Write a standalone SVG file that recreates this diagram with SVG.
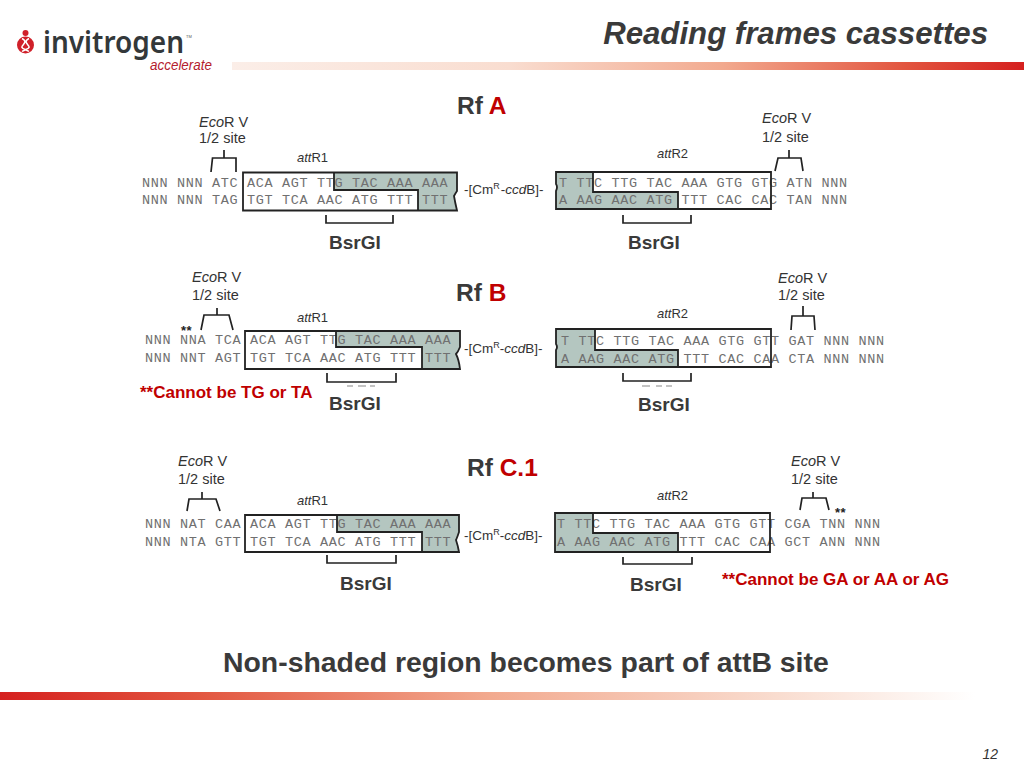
<svg xmlns="http://www.w3.org/2000/svg" width="1024" height="768" viewBox="0 0 1024 768">
<defs>
<linearGradient id="barTop" x1="0" x2="1" y1="0" y2="0"><stop offset="0" stop-color="#fbeee8"/><stop offset="0.35" stop-color="#f9ddd0"/><stop offset="0.62" stop-color="#f2a98e"/><stop offset="0.85" stop-color="#e2553f"/><stop offset="1" stop-color="#d5201f"/></linearGradient>
<linearGradient id="barBot" x1="0" x2="1" y1="0" y2="0"><stop offset="0" stop-color="#d5201f"/><stop offset="0.2" stop-color="#e2553f"/><stop offset="0.5" stop-color="#f2a98e"/><stop offset="0.8" stop-color="#f9ddd0"/><stop offset="1" stop-color="#ffffff"/></linearGradient>
</defs>
<style>
text{font-family:"Liberation Sans",Arial,sans-serif}
.seq{font-family:"Liberation Mono","Courier New",monospace;font-size:13.5px;letter-spacing:0.65px;fill:#707070}
.shade{fill:#b4c6c0;stroke:none}
.box{fill:none;stroke:#222;stroke-width:1.8}
.br{fill:none;stroke:#222;stroke-width:1.7}
.site{font-size:14.5px;fill:#333}
.att{font-size:13px;fill:#333}
.cm{font-size:13.5px;fill:#333}
.enz{font-size:19px;font-weight:bold;fill:#3a3a3a}
.rf{font-size:24.5px;font-weight:bold;fill:#3a3a3a}
.red{fill:#c00000}
.note{font-size:17px;font-weight:bold;fill:#c00000}
.star{font-size:13px;font-weight:bold;letter-spacing:0.5px;fill:#222}
.it{font-style:italic}
</style>
<rect width="1024" height="768" fill="#fff"/>
<g id="header">
<rect x="232" y="62" width="792" height="8" fill="url(#barTop)"/>
<text x="988" y="44" text-anchor="end" font-size="31.2" font-weight="bold" font-style="italic" fill="#3a3a3a">Reading frames cassettes</text>
</g>
<g id="logo">
<circle cx="25.500" cy="33" r="3" fill="#d0202a"/>
<circle cx="25.500" cy="45" r="8.500" fill="#d0202a"/>
<path d="M22 38.500c6 3 1 6 0 8s4 3 7 5M29 38.500c-6 3-1 6 0 8s-4 3-7 5" fill="none" stroke="#fff" stroke-width="1.500"/>
<text x="43" y="53" font-family="Noto Sans,sans-serif" style="font-family:'Noto Sans',sans-serif" font-size="31" font-weight="600" fill="#33383a" textLength="141" lengthAdjust="spacingAndGlyphs">invitrogen</text>
<text x="186" y="38" font-size="4" fill="#555">TM</text>
<text x="150" y="70" font-size="15.500" font-style="italic" fill="#b5202e" textLength="62" lengthAdjust="spacingAndGlyphs">accelerate</text>
</g>

<g id="rf-a">
<text class="rf" x="457" y="114">Rf <tspan class="red">A</tspan></text>
<text class="enz" x="329" y="249">BsrGI</text>
<text class="enz" x="628" y="249">BsrGI</text>
</g>
<g id="rf-a-attr1">
<path class="shade" d="M334 173H457V191Q455 194 454 196Q455 202 457 210H418V190H334Z"/>
<text class="seq" x="142" y="187">NNN NNN ATC ACA AGT TTG TAC AAA AAA</text>
<text class="seq" x="142" y="204">NNN NNN TAG TGT TCA AAC ATG TTT TTT</text>
<path class="box" d="M243 172.500H457V191Q455 194 454 196Q455 202 457 210.500H243ZM334 173V190H418V210"/>
<text class="site" x="199" y="127"><tspan class="it">Eco</tspan>R V</text>
<text class="site" x="199" y="143">1/2 site</text>
<text class="att" x="297" y="162"><tspan class="it">att</tspan>R1</text>
</g>
<g id="rf-a-cm"><text class="cm" x="464" y="194">-[Cm<tspan font-size="9" dy="-5">R</tspan><tspan dy="5" dx="1">-</tspan><tspan class="it">ccd</tspan>B]-</text></g>
<g id="rf-a-attr2">
<path class="shade" d="M556 172H593V192H678V209H556V191Q558 188 556 186Z"/>
<text class="seq" x="559" y="187">T TTC TTG TAC AAA GTG GTG ATN NNN</text>
<text class="seq" x="559" y="204">A AAG AAC ATG TTT CAC CAC TAN NNN</text>
<path class="box" d="M556 172H771V209H556V191Q558 187 556 184ZM593 172V192H678V209"/>
<text class="site" x="762" y="123"><tspan class="it">Eco</tspan>R V</text>
<text class="site" x="762" y="142">1/2 site</text>
<text class="att" x="657" y="158"><tspan class="it">att</tspan>R2</text>
</g>

<g id="rf-b">
<text class="rf" x="456" y="301">Rf <tspan class="red">B</tspan></text>
<text class="note" x="140" y="398">**Cannot be TG or TA</text>
<text class="enz" x="329" y="410">BsrGI</text>
<text class="enz" x="638" y="411">BsrGI</text>
</g>
<g id="rf-b-attr1">
<path class="shade" d="M336 331H460V347Q458 352 456 354Q459 360 460 369H422V347H336Z"/>
<text class="seq" x="145" y="344">NNN NNA TCA ACA AGT TTG TAC AAA AAA</text>
<text class="seq" x="145" y="362">NNN NNT AGT TGT TCA AAC ATG TTT TTT</text>
<path class="box" d="M245 331H460V347Q458 352 456 354Q459 360 460 369H245ZM336 331V347H422V369"/>
<text class="star" x="181" y="335">**</text>
<text class="site" x="192" y="282"><tspan class="it">Eco</tspan>R V</text>
<text class="site" x="192" y="300">1/2 site</text>
<text class="att" x="297" y="322"><tspan class="it">att</tspan>R1</text>
</g>
<g id="rf-b-cm"><text class="cm" x="464" y="353">-[Cm<tspan font-size="9" dy="-5">R</tspan><tspan dy="5">-</tspan><tspan class="it">ccd</tspan>B]-</text></g>
<g id="rf-b-attr2">
<path class="shade" d="M556 329H595V350H678V367H556V350Q558 347 556 344Z"/>
<text class="seq" x="561" y="345">T TTC TTG TAC AAA GTG GTT GAT NNN NNN</text>
<text class="seq" x="561" y="363">A AAG AAC ATG TTT CAC CAA CTA NNN NNN</text>
<path class="box" d="M556 329H771V367H556V350Q558 347 556 344ZM595 329V350H678V367"/>
<text class="site" x="778" y="283"><tspan class="it">Eco</tspan>R V</text>
<text class="site" x="778" y="300">1/2 site</text>
<text class="att" x="657" y="318"><tspan class="it">att</tspan>R2</text>
</g>

<g id="rf-c1">
<text class="rf" x="467" y="476">Rf <tspan class="red">C.1</tspan></text>
<text class="enz" x="340" y="590">BsrGI</text>
<text class="enz" x="630" y="591">BsrGI</text>
<text class="note" x="722" y="585">**Cannot be GA or AA or AG</text>
</g>
<g id="rf-c1-attr1">
<path class="shade" d="M337 515H459V532Q457 538 456 540Q458 546 459 552H422V532H337Z"/>
<text class="seq" x="145" y="528">NNN NAT CAA ACA AGT TTG TAC AAA AAA</text>
<text class="seq" x="145" y="546">NNN NTA GTT TGT TCA AAC ATG TTT TTT</text>
<path class="box" d="M245 515H459V532Q457 538 456 540Q458 546 459 552H245ZM337 515V532H422V552"/>
<text class="site" x="178" y="466"><tspan class="it">Eco</tspan>R V</text>
<text class="site" x="178" y="484">1/2 site</text>
<text class="att" x="297" y="505"><tspan class="it">att</tspan>R1</text>
</g>
<g id="rf-c1-cm"><text class="cm" x="464" y="540">-[Cm<tspan font-size="9" dy="-5">R</tspan><tspan dy="5">-</tspan><tspan class="it">ccd</tspan>B]-</text></g>
<g id="rf-c1-attr2">
<path class="shade" d="M555 513H593V533H678V552H555Z"/>
<text class="seq" x="557" y="528">T TTC TTG TAC AAA GTG GTT CGA TNN NNN</text>
<text class="seq" x="557" y="546">A AAG AAC ATG TTT CAC CAA GCT ANN NNN</text>
<path class="box" d="M555 513H770V552H555ZM593 513V533H678V552"/>
<text class="star" x="835" y="517">**</text>
<text class="site" x="791" y="466"><tspan class="it">Eco</tspan>R V</text>
<text class="site" x="791" y="484">1/2 site</text>
<text class="att" x="657" y="500"><tspan class="it">att</tspan>R2</text>
</g>

<g id="connectors">
<path class="br" d="M224 150V158M211 172L212.500 158H236L236 172"/>
<path class="br" d="M326 215V223H393V215"/>
<path class="br" d="M623 215V223H691V215"/>
<path class="br" d="M789 150V158M775 171L778 158H801L803 171"/>
<path class="br" d="M217 308V315M201 330L204 315H229L233 330"/>
<path class="br" d="M327 373V382H396V373"/>
<path class="br" d="M623 373V381H691V373"/>
<path class="br" d="M803 306V316M791 330L792 316H814L815 330"/>
<path class="br" d="M202 492V499M187 511L189 499H216L220 511"/>
<path class="br" d="M327 555V563H396V555"/>
<path class="br" d="M623 557V564H692V557"/>
<path class="br" d="M813 492V498M800 510L802 498H826L829 510"/>
<path d="M347 386H353M358 386H366M370 386H375M642 386H650M656 386H662M666 386H672" fill="none" stroke="#888" stroke-width="1.200"/>
</g>

<g id="footer">
<text x="223" y="672" font-size="28.400" font-weight="bold" fill="#3a3a3a">Non-shaded region becomes part of attB site</text>
<rect x="0" y="692" width="975" height="8" fill="url(#barBot)"/>
<text x="998" y="759" text-anchor="end" font-size="14" font-style="italic" fill="#333">12</text>
</g>
</svg>
